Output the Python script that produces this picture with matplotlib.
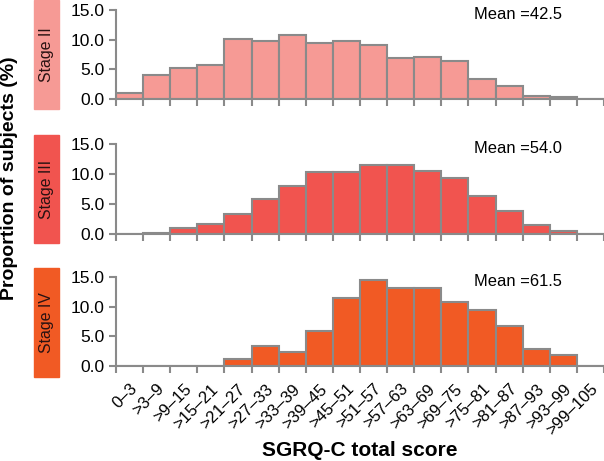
import matplotlib
matplotlib.use("Agg")
import matplotlib.pyplot as plt
from matplotlib.patches import Rectangle

plt.rcParams['font.family'] = ['Liberation Sans', 'DejaVu Sans']

# Bins of SGRQ-C total score
bin_labels = ["0\u20133", ">3\u20139", ">9\u201315", ">15\u201321", ">21\u201327", ">27\u201333",
              ">33\u201339", ">39\u201345", ">45\u201351", ">51\u201357", ">57\u201363", ">63\u201369",
              ">69\u201375", ">75\u201381", ">81\u201387", ">87\u201393", ">93\u201399", ">99\u2013105"]

stage_names = ["Stage II", "Stage III", "Stage IV"]
stage_means = ["42.5", "54.0", "61.5"]
stage_colors = ["#F69A95", "#F1544F", "#F15A24"]

stage2 = [1.0, 4.0, 5.2, 5.7, 10.1, 9.7, 10.8, 9.5, 9.8, 9.1, 6.9, 7.1, 6.4, 3.3, 2.2, 0.5, 0.3, 0.0]
stage3 = [0.0, 0.2, 1.0, 1.6, 3.4, 5.9, 8.0, 10.3, 10.3, 11.5, 11.5, 10.5, 9.4, 6.3, 3.9, 1.5, 0.5, 0.0]
stage4 = [0.0, 0.0, 0.0, 0.0, 1.1, 3.4, 2.4, 5.9, 11.5, 14.5, 13.1, 13.1, 10.8, 9.4, 6.7, 2.8, 1.85, 0.0]
stage_values = [stage2, stage3, stage4]

W, H = 604, 461
fig = plt.figure(figsize=(W / 100, H / 100), dpi=100)

# (y pixel of 0.0, y pixel of 15.0) for each panel, and label box extents
panel_px = [(99, 10), (234, 144), (366, 277)]
box_px = [(0, 109), (135, 243), (268, 377)]
x0, x1 = 116, 604
gray = "#8a8a8a"

axes = []
for i in range(3):
    ybot, ytop = panel_px[i]
    ax = fig.add_axes([x0 / W, 1 - ybot / H, (x1 - x0) / W, (ybot - ytop) / H])
    axes.append(ax)
    vals = stage_values[i]
    xs = [k + 0.5 for k in range(len(vals))]
    ax.bar(xs, vals, width=1.0, color=stage_colors[i], edgecolor=gray, linewidth=1.5, zorder=2)
    ax.set_xlim(0, 18)
    ax.set_ylim(0, 15)
    ax.set_yticks([0, 5, 10, 15])
    ax.set_yticklabels(["0.0", "5.0", "10.0", "15.0"], fontsize=12.5)
    ax.set_xticks(range(19))
    ax.set_xticklabels([])
    for s in ["top", "right"]:
        ax.spines[s].set_visible(False)
    for s in ["left", "bottom"]:
        ax.spines[s].set_color(gray)
        ax.spines[s].set_linewidth(1.5)
        ax.spines[s].set_zorder(3)
    ax.tick_params(axis="both", color=gray, width=1.5, length=5, direction="out", pad=3)
    ax.spines["bottom"].set_clip_on(False)
    ax.set_facecolor("none")
    ax.text(13.2, 14.3, "Mean =" + stage_means[i], fontsize=11.9, va="center", ha="left")

    # coloured stage label box
    b0, b1 = box_px[i]
    fig.patches.append(Rectangle((34 / W, 1 - b1 / H), 25 / W, (b1 - b0) / H,
                                 transform=fig.transFigure, color=stage_colors[i], zorder=0))
    fig.text(46.5 / W, 1 - (b0 + b1) / 2 / H, stage_names[i], rotation=90,
             ha="center", va="center", fontsize=11.4, color="#2a1212")

# bin labels on the bottom panel
ax = axes[-1]
ax.set_xticks([k + 0.5 for k in range(18)], minor=True)
ax.set_xticklabels(bin_labels, minor=True, rotation=45, ha="right", rotation_mode="anchor",
                   fontsize=12)
ax.tick_params(axis="x", which="minor", length=0, pad=11)

fig.text(10 / W, 1 - 178 / H, "Proportion of subjects (%)", rotation=90, ha="center",
         va="center", fontsize=14, fontweight="bold")
fig.text(360 / W, 1 - 450 / H, "SGRQ-C total score", ha="center", va="center",
         fontsize=15, fontweight="bold")

fig.savefig("out.png", dpi=100)
